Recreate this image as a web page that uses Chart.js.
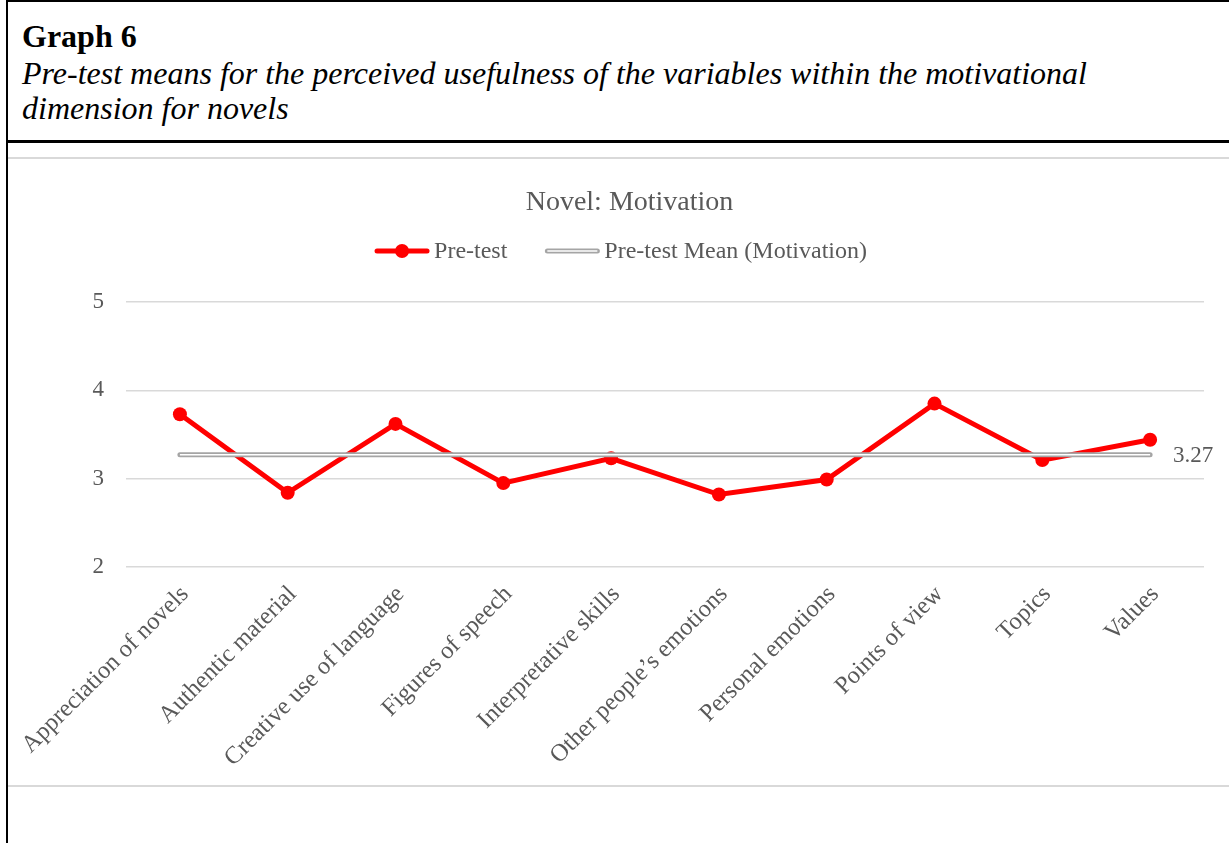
<!DOCTYPE html>
<html>
<head>
<meta charset="utf-8">
<title>Graph 6</title>
<script src="https://cdn.jsdelivr.net/npm/chart.js@4.4.1/dist/chart.umd.min.js"></script>
<style>
    html, body {
        margin: 0;
        background: #fff;
        overflow: hidden;
    }
    body {
        position: relative;
        width: 1229px;
        height: 843px;
        font-family: "Liberation Serif", "Times New Roman", serif;
    }
    .rule {
        position: absolute;
        background: #000;
    }
    #heading {
        position: absolute;
        left: 22px;
        top: 20px;
        font-size: 32px;
        font-weight: bold;
        line-height: 32px;
        color: #000;
    }
    #caption {
        position: absolute;
        left: 22px;
        top: 56px;
        font-size: 32px;
        font-style: italic;
        line-height: 35px;
        color: #000;
        white-space: nowrap;
    }
    #frame {
        position: absolute;
        left: 8px;
        top: 157px;
        width: 1243px;
        height: 626px;
        border-top: 2px solid #d9d9d9;
        border-bottom: 2px solid #d9d9d9;
    }
    #myChart {
        display: block;
    }
</style>
</head>
<body>
<div class="rule" style="left:6px; top:0; width:1240px; height:2px;"></div>
<div class="rule" style="left:6px; top:0; width:2px; height:843px;"></div>
<div class="rule" style="left:6px; top:140px; width:1240px; height:3px;"></div>

<div id="heading">Graph 6</div>
<div id="caption">Pre-test means for the perceived usefulness of the variables within the motivational<br>dimension for novels</div>

<div id="frame">
    <canvas id="myChart" width="1243" height="626"></canvas>
</div>

<script>
const categories = [
    'Appreciation of novels',
    'Authentic material',
    'Creative use of language',
    'Figures of speech',
    'Interpretative skills',
    'Other people’s emotions',
    'Personal emotions',
    'Points of view',
    'Topics',
    'Values'
];
const preTest = [3.73, 2.84, 3.62, 2.95, 3.23, 2.82, 2.99, 3.85, 3.21, 3.44];
const preTestMean = [3.27, 3.27, 3.27, 3.27, 3.27, 3.27, 3.27, 3.27, 3.27, 3.27];
const yMin = 2;
const yMax = 5;
const yStep = 1;

const FONT_FAMILY = '"Liberation Serif", "Times New Roman", serif';
const TEXT_GREY = '#595959';
const MEAN_GREY = '#a5a5a5';

// value printed at the right end of the mean line
const meanLabel = {
    id: 'meanLabel',
    afterDatasetsDraw(chart) {
        const meta = chart.getDatasetMeta(1);
        const last = meta.data[meta.data.length - 1];
        const value = preTestMean[preTestMean.length - 1];
        const ctx = chart.ctx;
        ctx.save();
        ctx.font = '23px ' + FONT_FAMILY;
        ctx.fillStyle = TEXT_GREY;
        ctx.textAlign = 'left';
        ctx.textBaseline = 'middle';
        ctx.fillText(value.toFixed(2), last.x + 23, last.y + 1);
        ctx.restore();
    }
};

// line-style legend (line + marker / double line) under the title
const lineLegend = {
    id: 'lineLegend',
    afterDraw(chart) {
        const ctx = chart.ctx;
        const entries = chart.data.datasets.filter(ds => ds.label);
        const keyWidth = 56, keyGap = 4, itemGap = 37;
        const y = 92;

        ctx.save();
        ctx.font = '24px ' + FONT_FAMILY;
        const widths = entries.map(ds => keyWidth + keyGap + ctx.measureText(ds.label).width);
        const total = widths.reduce((a, b) => a + b, 0) + itemGap * (entries.length - 1);
        let x = chart.width / 2 - total / 2 - 9;

        entries.forEach((ds, i) => {
            ctx.lineCap = 'round';
            ctx.strokeStyle = ds.borderColor;
            ctx.lineWidth = ds.borderWidth;
            ctx.beginPath();
            ctx.moveTo(x + 3, y);
            ctx.lineTo(x + keyWidth - 3, y);
            ctx.stroke();
            if (ds.pointRadius > 0) {
                ctx.fillStyle = ds.pointBackgroundColor;
                ctx.beginPath();
                ctx.arc(x + keyWidth / 2, y, ds.pointRadius, 0, Math.PI * 2);
                ctx.fill();
            } else {
                ctx.lineCap = 'butt';
                ctx.strokeStyle = '#ffffff';
                ctx.lineWidth = 1.5;
                ctx.beginPath();
                ctx.moveTo(x + 3, y);
                ctx.lineTo(x + keyWidth - 3, y);
                ctx.stroke();
            }
            ctx.fillStyle = TEXT_GREY;
            ctx.textAlign = 'left';
            ctx.textBaseline = 'middle';
            ctx.fillText(ds.label, x + keyWidth + keyGap, y + 1);
            x += widths[i] + itemGap;
        });
        ctx.restore();
    }
};

const ctx = document.getElementById('myChart').getContext('2d');
const myChart = new Chart(ctx, {
    type: 'line',
    data: {
        labels: categories,
        datasets: [
            {
                label: 'Pre-test',
                data: preTest,
                borderColor: '#ff0000',
                backgroundColor: '#ff0000',
                pointBackgroundColor: '#ff0000',
                pointBorderColor: '#ff0000',
                borderWidth: 5,
                pointRadius: 7,
                pointBorderWidth: 0,
                tension: 0,
                order: 3
            },
            {
                label: 'Pre-test Mean (Motivation)',
                data: preTestMean,
                borderColor: MEAN_GREY,
                borderWidth: 5,
                borderCapStyle: 'round',
                pointRadius: 0,
                order: 2
            },
            {
                // white core of the double mean line
                data: preTestMean,
                borderColor: '#ffffff',
                borderWidth: 1.5,
                pointRadius: 0,
                order: 1
            }
        ]
    },
    options: {
        responsive: false,
        animation: false,
        layout: { padding: { left: 47, right: 47, top: 0, bottom: 0 } },
        plugins: {
            legend: { display: false },
            tooltip: { enabled: false },
            title: {
                display: true,
                text: 'Novel: Motivation',
                color: TEXT_GREY,
                font: { family: FONT_FAMILY, size: 28, weight: 'normal' },
                padding: { top: 27.2, bottom: 82.2 }
            }
        },
        scales: {
            x: {
                offset: true,
                grid: { display: false, drawTicks: false },
                border: { display: false },
                ticks: {
                    color: TEXT_GREY,
                    font: { family: FONT_FAMILY, size: 24.5 },
                    autoSkip: false,
                    maxRotation: 45,
                    minRotation: 45,
                    padding: 13,
                    labelOffset: 5
                },
                afterFit(scale) {
                    // long rotated labels may hang past the plot edge; keep the plot fixed
                    scale.height = 218;
                    scale.paddingLeft = 0;
                    scale.paddingRight = 0;
                }
            },
            y: {
                min: yMin,
                max: yMax,
                grid: { color: '#d9d9d9', lineWidth: 1.5, drawTicks: false },
                border: { display: false },
                ticks: {
                    stepSize: yStep,
                    color: TEXT_GREY,
                    font: { family: FONT_FAMILY, size: 23 },
                    padding: 22
                },
                afterFit(scale) { scale.width = 71; }
            }
        }
    },
    plugins: [meanLabel, lineLegend]
});
</script>
</body>
</html>
